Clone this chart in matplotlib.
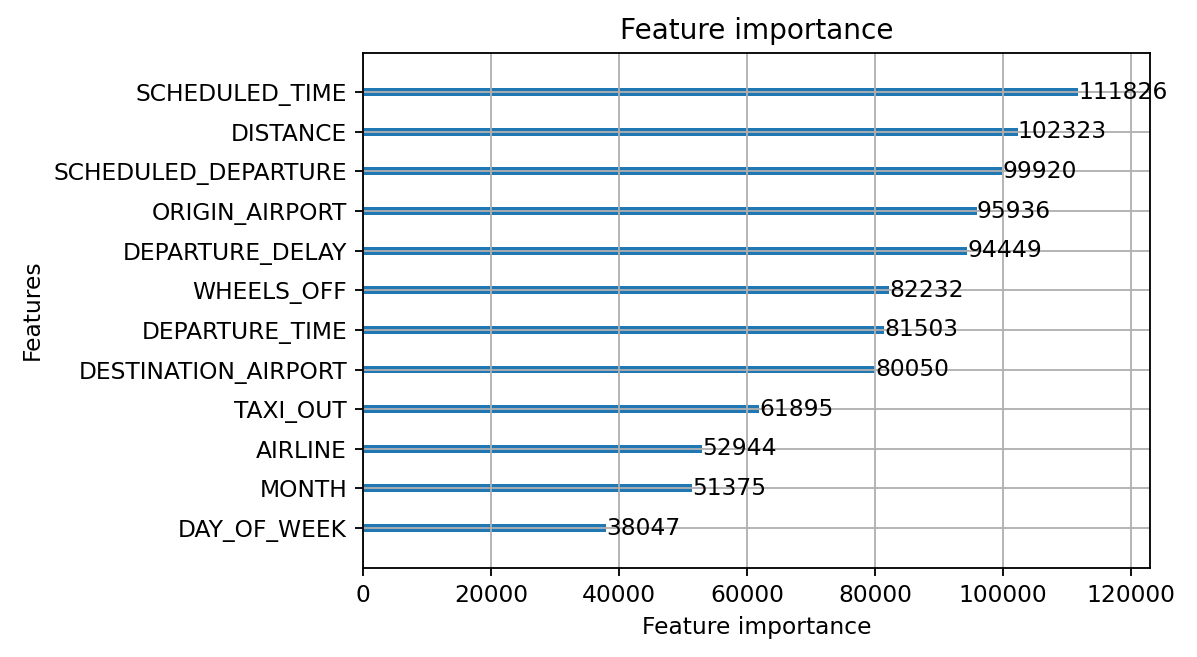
import matplotlib
matplotlib.use("Agg")
import matplotlib.pyplot as plt

plt.rcParams["font.size"] = 10.2

# Feature importance values (bottom to top)
features = ["DAY_OF_WEEK", "MONTH", "AIRLINE", "TAXI_OUT", "DESTINATION_AIRPORT",
            "DEPARTURE_TIME", "WHEELS_OFF", "DEPARTURE_DELAY", "ORIGIN_AIRPORT",
            "SCHEDULED_DEPARTURE", "DISTANCE", "SCHEDULED_TIME"]
importance = [38047, 51375, 52944, 61895, 80050, 81503, 82232, 94449, 95936,
              99920, 102323, 111826]

dpi = 165
fig = plt.figure(figsize=(1197 / dpi, 657 / dpi), dpi=dpi)
ax = fig.add_axes([0.3033, 0.136, 0.6574, 0.784])

ylocs = list(range(len(features)))
ax.barh(ylocs, importance, align="center", height=0.2)
for x, y in zip(importance, ylocs):
    ax.text(x + 1, y, str(x), va="center")

ax.set_yticks(ylocs)
ax.set_yticklabels(features)
ax.set_xlim(0, max(importance) * 1.1)
ax.set_ylim(-1, len(features))
ax.set_title("Feature importance")
ax.set_xlabel("Feature importance")
ax.set_ylabel("Features")
ax.grid(True)

fig.savefig("out.png", dpi=dpi)
